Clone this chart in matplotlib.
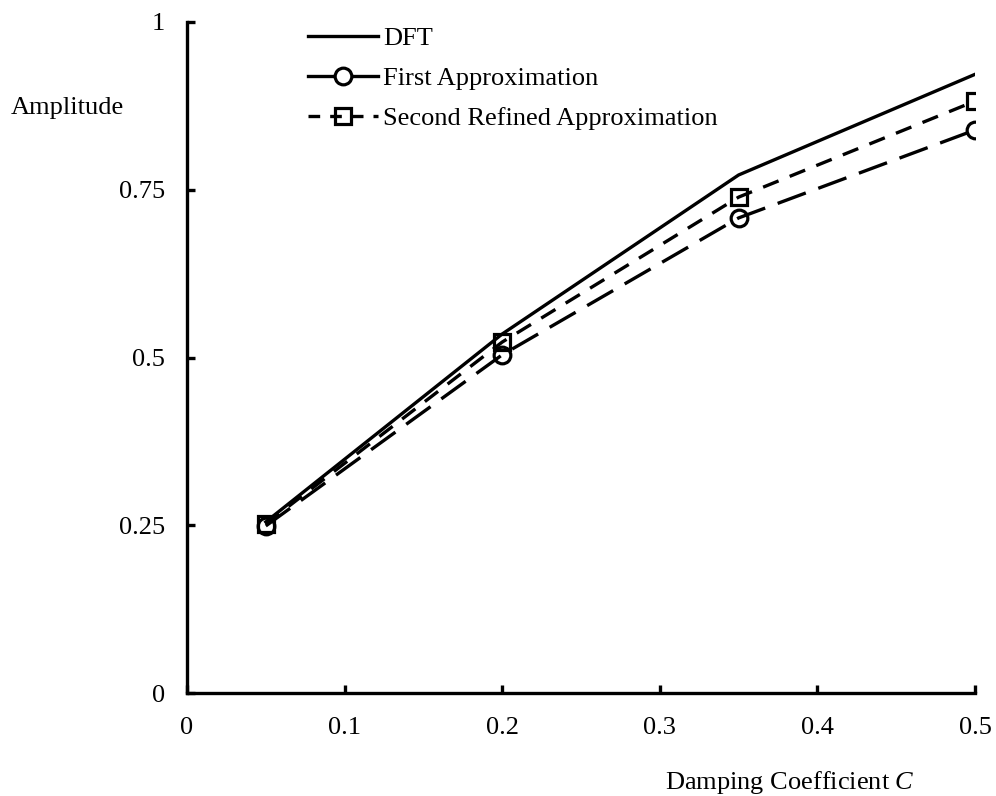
import matplotlib
matplotlib.use("Agg")
import matplotlib.pyplot as plt
from matplotlib.lines import Line2D

plt.rcParams['font.family'] = ['Liberation Serif', 'DejaVu Serif']
plt.rcParams['mathtext.fontset'] = 'custom'
plt.rcParams['mathtext.it'] = 'Liberation Serif:italic'
plt.rcParams['mathtext.rm'] = 'Liberation Serif'

damping = [0.05, 0.2, 0.35, 0.5]
dft = [0.255, 0.535, 0.772, 0.922]
first_approx = [0.249, 0.504, 0.708, 0.839]
second_approx = [0.252, 0.523, 0.739, 0.882]
x_ticks = [0, 0.1, 0.2, 0.3, 0.4, 0.5]
x_ticklabels = ["0", "0.1", "0.2", "0.3", "0.4", "0.5"]
y_ticks = [0, 0.25, 0.5, 0.75, 1]
y_ticklabels = ["0", "0.25", "0.5", "0.75", "1"]

fig = plt.figure(figsize=(9.96, 7.96), dpi=100)
ax = fig.add_axes([187/996, 1-693/796, (975-187)/996, (693-22)/796])

lw = 2.4
ms = 12
mew = 2.3
ax.plot(damping, dft, color='black', lw=lw, solid_joinstyle='miter')
ax.plot(damping, first_approx, color='black', lw=lw, dashes=(9, 4),
        marker='o', markersize=ms, markerfacecolor='none', markeredgewidth=mew)
ax.plot(damping, second_approx, color='black', lw=lw, dashes=(5, 3.6),
        marker='s', markersize=ms, markerfacecolor='none', markeredgewidth=mew)

ax.set_xlim(0, 0.5)
ax.set_ylim(0, 1)
ax.set_xticks(x_ticks)
ax.set_xticklabels(x_ticklabels)
ax.set_yticks(y_ticks)
ax.set_yticklabels(y_ticklabels)
for s in ['top', 'right']:
    ax.spines[s].set_visible(False)
for s in ['left', 'bottom']:
    ax.spines[s].set_linewidth(2.4)
ax.tick_params(axis='both', direction='in', length=6, width=2.4, labelsize=19)
ax.tick_params(axis='x', pad=17)
ax.tick_params(axis='y', pad=16)

fig.text(67/996, 1-108/796, "Amplitude", fontsize=19, ha='center', va='center')
fig.text(790/996, 1-782/796, "Damping Coefficient $C$", fontsize=19, ha='center', va='center')

handles = [
    Line2D([], [], color='black', lw=lw),
    Line2D([], [], color='black', lw=lw, marker='o', markersize=ms,
           markerfacecolor='white', markeredgewidth=mew),
    Line2D([], [], color='black', lw=lw, dashes=(3.5, 3), marker='s', markersize=ms,
           markerfacecolor='none', markeredgewidth=mew),
]
labels = ["DFT", "First Approximation", "Second Refined Approximation"]
fig.legend(handles, labels, loc='upper left', bbox_to_anchor=(300/996, 1-19/796),
           frameon=False, fontsize=19, handlelength=2.65, handletextpad=0.2,
           labelspacing=0.62, borderaxespad=0, borderpad=0.3)

fig.savefig("out.png", dpi=100)
